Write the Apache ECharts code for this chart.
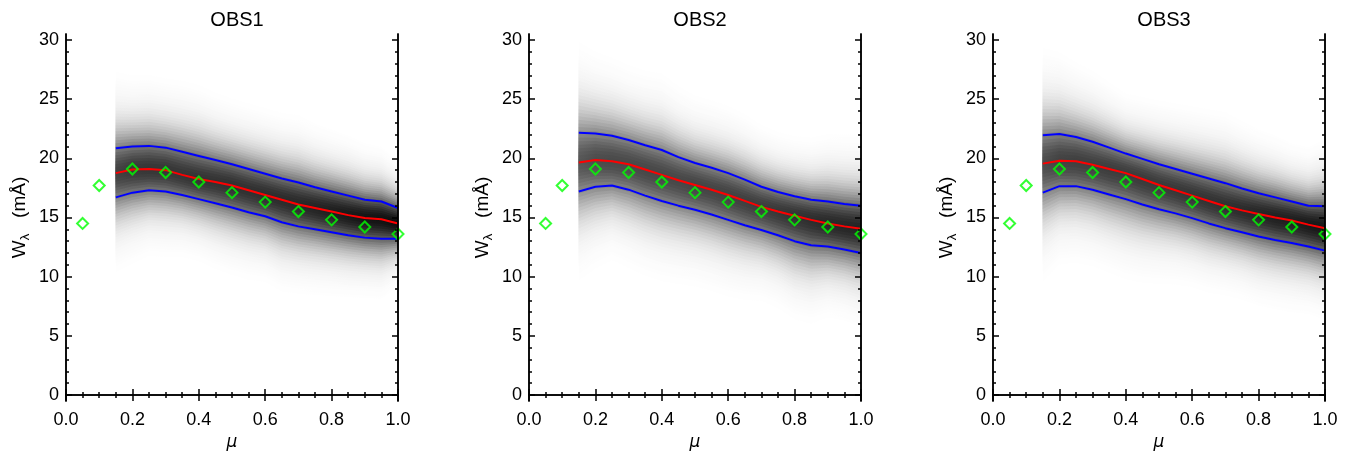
<!DOCTYPE html>
<html><head><meta charset="utf-8">
<script src="https://cdn.jsdelivr.net/npm/echarts@6/dist/echarts.min.js"></script>
<style>html,body{margin:0;padding:0;background:#fff}#c{width:1362px;height:457px}</style>
</head><body><div id="c"></div>
<script>
// ---- data ----
const panelTitles = ['OBS1', 'OBS2', 'OBS3'];
const mu = [0.15,0.20,0.25,0.30,0.35,0.40,0.45,0.50,0.55,0.60,0.65,0.70,0.75,0.80,0.85,0.90,0.95,1.00];

const obs1Upper  = [20.85,21.0,21.05,20.9,20.55,20.2,19.85,19.5,19.1,18.7,18.3,17.95,17.55,17.2,16.85,16.5,16.35,15.8];
const obs1Median = [18.75,19.05,19.1,19.0,18.6,18.25,18.0,17.7,17.3,16.9,16.5,16.1,15.8,15.5,15.2,14.95,14.85,14.5];
const obs1Lower  = [16.7,17.1,17.3,17.2,16.9,16.55,16.2,15.85,15.45,15.1,14.6,14.25,14.0,13.75,13.5,13.3,13.2,13.2];
const obs1Peak   = [0.74,0.78,0.79,0.79,0.79,0.80,0.80,0.81,0.81,0.82,0.83,0.84,0.86,0.88,0.90,0.92,0.93,0.95];

const obs2Upper  = [22.15,22.1,21.9,21.55,21.1,20.7,20.1,19.6,19.2,18.75,18.2,17.6,17.15,16.8,16.5,16.35,16.15,16.0];
const obs2Median = [19.65,19.85,19.75,19.5,19.05,18.6,18.15,17.75,17.35,16.9,16.4,15.9,15.5,15.15,14.8,14.5,14.25,14.05];
const obs2Lower  = [17.2,17.6,17.7,17.35,16.85,16.4,16.0,15.65,15.25,14.8,14.35,13.95,13.5,13.0,12.65,12.55,12.3,12.0];
const obs2Peak   = [0.66,0.70,0.71,0.71,0.72,0.72,0.72,0.73,0.73,0.74,0.75,0.76,0.78,0.80,0.82,0.84,0.85,0.86];

const obs3Upper  = [21.95,22.05,21.8,21.4,20.9,20.4,19.95,19.5,19.1,18.7,18.3,17.9,17.45,17.05,16.7,16.35,16.0,15.95];
const obs3Median = [19.55,19.8,19.75,19.45,19.1,18.75,18.25,17.75,17.3,16.85,16.4,15.95,15.6,15.3,15.0,14.75,14.4,14.1];
const obs3Lower  = [17.1,17.65,17.65,17.35,16.95,16.55,16.1,15.7,15.35,14.95,14.5,14.1,13.75,13.4,13.1,12.85,12.55,12.2];
const obs3Peak   = [0.70,0.74,0.75,0.75,0.76,0.76,0.77,0.77,0.78,0.79,0.80,0.81,0.83,0.85,0.87,0.88,0.90,0.91];

const modelMu = [0.05,0.10,0.20,0.30,0.40,0.50,0.60,0.70,0.80,0.90,1.00];
const modelW  = [14.5,17.7,19.1,18.8,18.0,17.1,16.3,15.5,14.8,14.2,13.6];

const xTicks = [0,0.2,0.4,0.6,0.8,1.0];
const yTicks = [0,5,10,15,20,25,30];
const yMinorTicks = [0,1,2,3,4,5,6,7,8,9,10,11,12,13,14,15,16,17,18,19,20,21,22,23,24,25,26,27,28,29,30];

const panels = [
  {up: obs1Upper, med: obs1Median, lo: obs1Lower, peak: obs1Peak},
  {up: obs2Upper, med: obs2Median, lo: obs2Lower, peak: obs2Peak},
  {up: obs3Upper, med: obs3Median, lo: obs3Lower, peak: obs3Peak}
];

// ---- layout ----
const gridLefts = [66, 529, 993];
const gridW = 332, gridTop = 34, gridH = 367;
const FONT = '"Liberation Sans", Arial, sans-serif';

// density shading levels (in units of band half-width), outermost first
const STEP = 0.12;
const ZMAX = 4.2;
const levels = [];
for (let z = ZMAX; z > 0.01; z -= STEP) levels.push(+z.toFixed(3));
function rawProfile(z) {
  return 0.82 * Math.exp(-0.5 * (z / 1.05) ** 2) + 0.18 * Math.exp(-0.5 * (z / 1.9) ** 2);
}
const P0 = rawProfile(0), PZ = rawProfile(ZMAX);
function profile(z) {
  z = Math.max(z, 0);
  return Math.max(0, (rawProfile(z) - PZ) / (P0 - PZ));
}
function grayOf(d) {
  const g = Math.max(0, Math.min(255, Math.round(255 * (1 - d))));
  return 'rgb(' + g + ',' + g + ',' + g + ')';
}

const grid = [], xAxis = [], yAxis = [], series = [], title = [];
const tickStyle = {color: '#000', width: 1.5};

panels.forEach((p, g) => {
  grid.push({left: gridLefts[g], top: gridTop, width: gridW, height: gridH});
  title.push({text: panelTitles[g], left: gridLefts[g] + gridW / 2, top: 5, textAlign: 'center',
    textStyle: {fontFamily: FONT, fontSize: 20, fontWeight: 'normal', color: '#000'}});

  const xBase = {
    gridIndex: g, type: 'value', min: 0, max: 1, interval: 0.2, z: 10,
    axisLine: {lineStyle: {color: '#000', width: 1.5}},
    axisTick: {inside: true, length: 6, lineStyle: tickStyle},
    minorTick: {show: true, splitNumber: 4, length: 3, lineStyle: tickStyle},
    splitLine: {show: false}
  };
  xAxis.push(Object.assign({}, xBase, {
    position: 'bottom',
    axisLabel: {margin: 10, fontFamily: FONT, fontSize: 18, color: '#000', formatter: v => v.toFixed(1)},
    name: 'μ', nameLocation: 'middle', nameGap: 33,
    nameTextStyle: {fontFamily: '"DejaVu Sans", sans-serif', fontSize: 17, fontStyle: 'italic', color: '#000'}
  }));
  xAxis.push(Object.assign({}, xBase, {position: 'top', axisLabel: {show: false}}));

  const yBase = {gridIndex: g, type: 'value', min: -0.5, max: 30.5, z: 10, splitLine: {show: false},
    axisLine: {lineStyle: {color: '#000', width: 1.5}}};
  yAxis.push(Object.assign({}, yBase, {
    position: 'left',
    axisTick: {inside: true, length: 6, lineStyle: tickStyle, customValues: yTicks},
    axisLabel: {customValues: yTicks, margin: 7, fontFamily: FONT, fontSize: 18, color: '#000'},
    name: '{a|W}{b|λ}   {a|(mÅ)}', nameLocation: 'middle', nameGap: 34,
    nameTextStyle: {fontFamily: FONT, fontSize: 19, color: '#000',
      rich: {a: {fontFamily: FONT, fontSize: 19, color: '#000', lineHeight: 24, verticalAlign: 'middle'},
             b: {fontFamily: FONT, fontSize: 13, color: '#000', lineHeight: 24, verticalAlign: 'bottom'}}}
  }));
  yAxis.push(Object.assign({}, yBase, {
    position: 'left', axisLabel: {show: false},
    axisTick: {inside: true, length: 3, lineStyle: tickStyle, customValues: yMinorTicks}
  }));
  yAxis.push(Object.assign({}, yBase, {
    position: 'right', axisLabel: {show: false},
    axisTick: {inside: true, length: 6, lineStyle: tickStyle, customValues: yTicks}
  }));
  yAxis.push(Object.assign({}, yBase, {
    position: 'right', axisLabel: {show: false},
    axisTick: {inside: true, length: 3, lineStyle: tickStyle, customValues: yMinorTicks}
  }));

  const xi = 2 * g, yi = 4 * g;
  const n = mu.length;
  series.push({
    type: 'custom', coordinateSystem: 'cartesian2d', xAxisIndex: xi, yAxisIndex: yi,
    silent: true, z: 1, animation: false,
    encode: {x: 0, y: 1},
    data: levels.map(z => [0.5, 15, z]),
    renderItem: function (params, api) {
      const z = api.value(2);
      const f = profile(z - STEP / 2);
      const pts = [];
      for (let i = 0; i < n; i++) pts.push(api.coord([mu[i], p.med[i] + z * (p.up[i] - p.med[i])]));
      for (let i = n - 1; i >= 0; i--) pts.push(api.coord([mu[i], p.med[i] - z * (p.med[i] - p.lo[i])]));
      const stops = mu.map((m, i) => ({offset: (m - mu[0]) / (mu[n - 1] - mu[0]), color: grayOf(p.peak[i] * f)}));
      return {type: 'polygon', shape: {points: pts},
        style: {fill: {type: 'linear', x: 0, y: 0, x2: 1, y2: 0, colorStops: stops}}};
    }
  });
  const lineCommon = {type: 'line', xAxisIndex: xi, yAxisIndex: yi, showSymbol: false, symbol: 'none',
    z: 3, animation: false, silent: true};
  series.push(Object.assign({}, lineCommon, {data: mu.map((m, i) => [m, p.up[i]]), lineStyle: {color: '#0000ff', width: 2}}));
  series.push(Object.assign({}, lineCommon, {data: mu.map((m, i) => [m, p.lo[i]]), lineStyle: {color: '#0000ff', width: 2}}));
  series.push(Object.assign({}, lineCommon, {data: mu.map((m, i) => [m, p.med[i]]), lineStyle: {color: '#ff0000', width: 2}}));
  series.push({
    type: 'scatter', xAxisIndex: xi, yAxisIndex: yi, z: 4, clip: true, animation: false, silent: true,
    symbol: 'diamond', symbolSize: 11,
    itemStyle: {color: 'rgba(0,0,0,0)', borderColor: '#00ff00', borderWidth: 2},
    data: modelMu.map((m, i) => [m, modelW[i]])
  });
});

const chart = echarts.init(document.getElementById('c'), null, {renderer: 'canvas'});
chart.setOption({animation: false, backgroundColor: '#fff', title, grid, xAxis, yAxis, series});
</script>
</body></html>
